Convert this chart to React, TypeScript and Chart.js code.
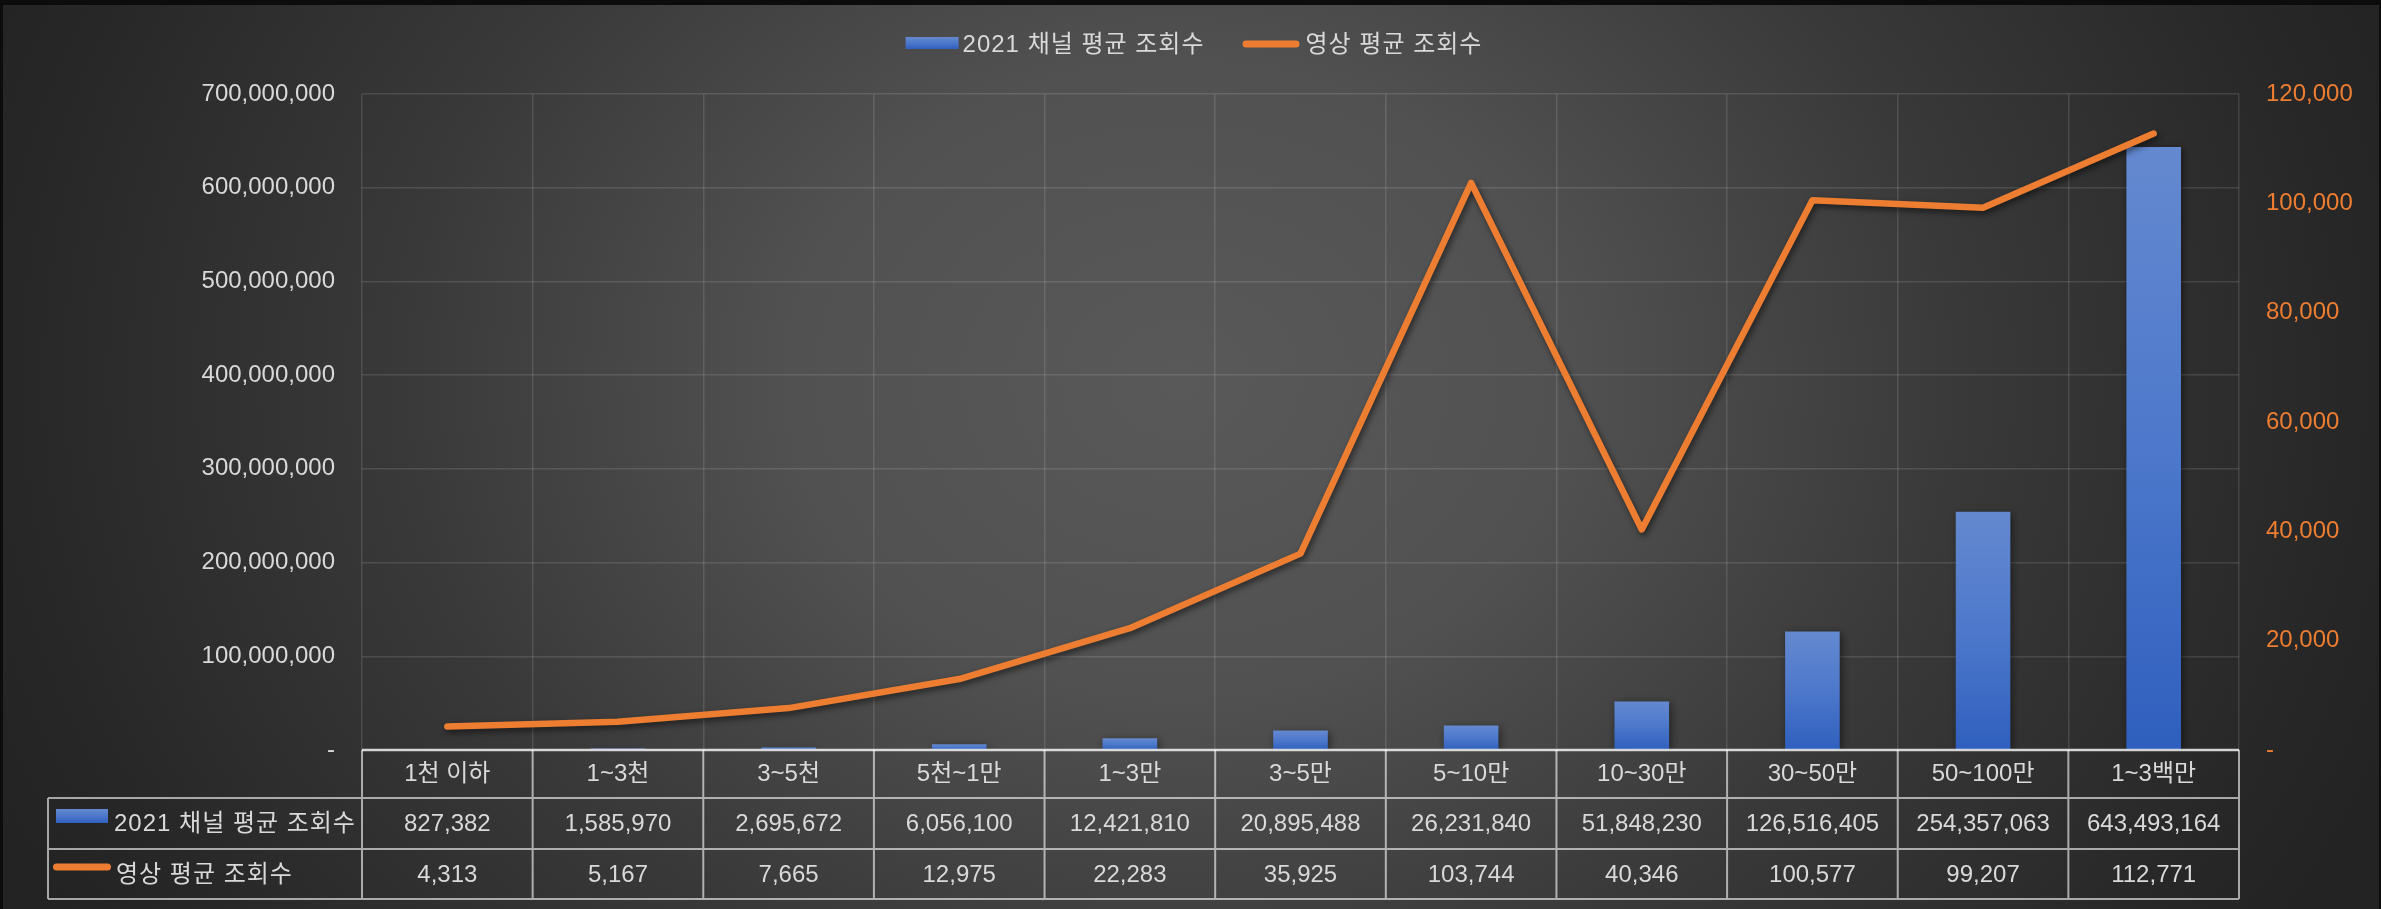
import React, { useEffect, useRef } from 'react';
import { Chart, registerables } from 'chart.js';

Chart.register(...registerables);

const categories = ['1천 이하', '1~3천', '3~5천', '5천~1만', '1~3만', '3~5만', '5~10만', '10~30만', '30~50만', '50~100만', '1~3백만'];
const channelViews = [827382, 1585970, 2695672, 6056100, 12421810, 20895488, 26231840, 51848230, 126516405, 254357063, 643493164];
const videoViews = [4313, 5167, 7665, 12975, 22283, 35925, 103744, 40346, 100577, 99207, 112771];
const seriesNames = ['2021 채널 평균 조회수', '영상 평균 조회수'];
const leftAxisMax = 700000000;
const leftAxisStep = 100000000;
const rightAxisMax = 120000;
const rightAxisStep = 20000;

const W = 2381;
const H = 909;
const FONT = "'Liberation Sans', 'Noto Sans CJK KR', 'Noto Sans', sans-serif";
const TEXT = '#d9d9d9';
const ORANGE = '#ed7d31';
const FONT_SIZE = 24;

const fmt = (v: number) => (v === 0 ? '-' : Number(v).toLocaleString('en-US'));

function blueGradient(ctx: CanvasRenderingContext2D, top: number, bottom: number) {
  const g = ctx.createLinearGradient(0, top, 0, bottom);
  g.addColorStop(0, '#6489d0');
  g.addColorStop(0.5, '#4d78cb');
  g.addColorStop(1, '#2f5fbe');
  return g;
}

const bgPlugin = {
  id: 'bgPlugin',
  beforeDraw(chart: any) {
    const ctx = chart.ctx as CanvasRenderingContext2D;
    ctx.save();
    ctx.fillStyle = '#0c0c0c';
    ctx.fillRect(0, 0, W, H);
    ctx.beginPath();
    ctx.rect(3, 5, W - 5, H - 5);
    ctx.clip();
    const cx = 1180, cy = 380, rx = 1300, ry = 1050;
    ctx.translate(cx, cy);
    ctx.scale(1, ry / rx);
    const g = ctx.createRadialGradient(0, 0, 0, 0, 0, rx);
    g.addColorStop(0, '#595959');
    g.addColorStop(0.3, '#515151');
    g.addColorStop(0.6, '#393939');
    g.addColorStop(0.9, '#272727');
    g.addColorStop(1, '#232323');
    ctx.fillStyle = g;
    ctx.fillRect(-cx, (-cy * rx) / ry, W, (H * rx) / ry);
    ctx.restore();
  },
};

const shadowPlugin = {
  id: 'shadowPlugin',
  beforeDatasetDraw(chart: any, args: any) {
    const ctx = chart.ctx as CanvasRenderingContext2D;
    ctx.save();
    if (args.meta.type === 'bar') {
      ctx.shadowColor = 'rgba(0,0,0,0.5)';
      ctx.shadowBlur = 8;
      ctx.shadowOffsetX = 2;
      ctx.shadowOffsetY = 2;
    } else {
      ctx.shadowColor = 'rgba(0,0,0,0.55)';
      ctx.shadowBlur = 6;
      ctx.shadowOffsetX = 2;
      ctx.shadowOffsetY = 3;
    }
  },
  afterDatasetDraw(chart: any) {
    chart.ctx.restore();
  },
};

const ROW_H = [48, 51, 50];

function withSpacing(ctx: any, px: string, fn: () => void) {
  const prev = ctx.letterSpacing;
  if (prev !== undefined) ctx.letterSpacing = px;
  fn();
  if (prev !== undefined) ctx.letterSpacing = prev;
}

const tablePlugin = {
  id: 'tablePlugin',
  afterDraw(chart: any) {
    const ctx = chart.ctx as CanvasRenderingContext2D;
    const xs = chart.scales.x;
    const { left, right, bottom } = chart.chartArea;
    const n = categories.length;
    const colW = (right - left) / n;
    const r0 = bottom;
    const r1 = r0 + ROW_H[0];
    const r2 = r1 + ROW_H[1];
    const r3 = r2 + ROW_H[2];
    const tableLeft = 48;
    ctx.save();
    ctx.strokeStyle = 'rgba(255,255,255,0.6)';
    ctx.lineWidth = 2;
    ctx.beginPath();
    [r1, r2, r3].forEach((y) => {
      ctx.moveTo(tableLeft, y);
      ctx.lineTo(right, y);
    });
    ctx.moveTo(tableLeft, r1);
    ctx.lineTo(tableLeft, r3);
    for (let i = 0; i <= n; i++) {
      const x = left + i * colW;
      ctx.moveTo(x, r0);
      ctx.lineTo(x, r3);
    }
    ctx.stroke();
    ctx.strokeStyle = 'rgba(255,255,255,0.78)';
    ctx.lineWidth = 2.5;
    ctx.beginPath();
    ctx.moveTo(left, r0);
    ctx.lineTo(right, r0);
    ctx.stroke();

    ctx.fillStyle = TEXT;
    ctx.font = `${FONT_SIZE}px ${FONT}`;
    ctx.textAlign = 'center';
    ctx.textBaseline = 'middle';
    const y1c = (r1 + r2) / 2 + 1;
    const y2c = (r2 + r3) / 2 + 1;
    for (let i = 0; i < n; i++) {
      const x = xs.getPixelForValue(i);
      ctx.fillText(fmt(channelViews[i]), x, y1c);
      ctx.fillText(fmt(videoViews[i]), x, y2c);
    }
    ctx.textAlign = 'left';
    ctx.fillStyle = blueGradient(ctx, r1 + 11, r1 + 25);
    ctx.fillRect(56, r1 + 11, 52, 14);
    ctx.fillStyle = TEXT;
    ctx.strokeStyle = ORANGE;
    ctx.lineWidth = 7;
    ctx.lineCap = 'round';
    ctx.beginPath();
    ctx.moveTo(56.5, r2 + 18);
    ctx.lineTo(107.5, r2 + 18);
    ctx.stroke();

    let t1 = 0;
    let t2 = 0;
    withSpacing(ctx, '1px', () => {
      ctx.fillText(seriesNames[0], 114, y1c);
      ctx.fillText(seriesNames[1], 116, y2c);
      t1 = ctx.measureText(seriesNames[0]).width;
      t2 = ctx.measureText(seriesNames[1]).width;
    });

    const total = 53 + 4 + t1 + 38 + 57 + 6 + t2;
    let lx = 1194 - total / 2;
    const ly = 45;
    ctx.fillStyle = blueGradient(ctx, 37, 49);
    ctx.fillRect(lx, 37, 53, 12);
    lx += 57;
    ctx.fillStyle = TEXT;
    withSpacing(ctx, '1px', () => ctx.fillText(seriesNames[0], lx, ly));
    lx += t1 + 38;
    ctx.strokeStyle = ORANGE;
    ctx.lineWidth = 7;
    ctx.beginPath();
    ctx.moveTo(lx + 3.5, 44);
    ctx.lineTo(lx + 53.5, 44);
    ctx.stroke();
    lx += 63;
    withSpacing(ctx, '1px', () => ctx.fillText(seriesNames[1], lx, ly));
    ctx.restore();
  },
};

export default function App() {
  const ref = useRef<HTMLCanvasElement | null>(null);
  useEffect(() => {
    if (!ref.current) return;
    const chart = new Chart(ref.current, {
      type: 'bar',
      data: {
        labels: categories,
        datasets: [
          {
            type: 'line',
            label: seriesNames[1],
            data: videoViews,
            yAxisID: 'y1',
            borderColor: ORANGE,
            backgroundColor: ORANGE,
            borderWidth: 6.5,
            borderCapStyle: 'round',
            borderJoinStyle: 'round',
            pointRadius: 0,
            pointHoverRadius: 0,
            tension: 0,
            order: 0,
          } as any,
          {
            type: 'bar',
            label: seriesNames[0],
            data: channelViews,
            yAxisID: 'y',
            barPercentage: 0.32,
            categoryPercentage: 1,
            backgroundColor: (c: any) => {
              const chart = c.chart;
              if (!chart.chartArea || c.type !== 'data' || !chart.scales.y) return '#4472c4';
              const ys = chart.scales.y;
              const top = ys.getPixelForValue(c.raw);
              const bot = ys.getPixelForValue(0);
              if (!isFinite(top) || !isFinite(bot) || bot - top < 1) return '#4472c4';
              return blueGradient(chart.ctx, top, bot);
            },
            borderWidth: 0,
            order: 1,
          } as any,
        ],
      },
      options: {
        responsive: false,
        animation: false,
        devicePixelRatio: 1,
        layout: { padding: { top: 94, left: 0, right: 0, bottom: 0 } },
        plugins: {
          legend: { display: false },
          tooltip: { enabled: false },
        },
        scales: {
          x: {
            type: 'category',
            offset: true,
            grid: {
              display: true,
              offset: true,
              color: 'rgba(255,255,255,0.12)',
              lineWidth: 1.5,
              drawTicks: false,
            },
            border: { display: false },
            ticks: {
              color: TEXT,
              font: { family: FONT, size: FONT_SIZE },
              padding: 10,
              autoSkip: false,
              maxRotation: 0,
              minRotation: 0,
            },
            afterFit: (s: any) => {
              s.height = 159;
            },
          },
          y: {
            type: 'linear',
            position: 'left',
            min: 0,
            max: leftAxisMax,
            grid: {
              color: 'rgba(255,255,255,0.12)',
              lineWidth: 1.5,
              drawTicks: false,
            },
            border: { display: false },
            ticks: {
              stepSize: leftAxisStep,
              color: TEXT,
              font: { family: FONT, size: FONT_SIZE },
              padding: 27,
              callback: (v: any) => fmt(Number(v)),
            },
            afterFit: (s: any) => {
              s.width = 362;
            },
          },
          y1: {
            type: 'linear',
            position: 'right',
            min: 0,
            max: rightAxisMax,
            grid: { display: false, drawTicks: false },
            border: { display: false },
            ticks: {
              stepSize: rightAxisStep,
              color: ORANGE,
              font: { family: FONT, size: FONT_SIZE },
              padding: 27,
              callback: (v: any) => fmt(Number(v)),
            },
            afterFit: (s: any) => {
              s.width = 142;
            },
          },
        },
      },
      plugins: [bgPlugin, shadowPlugin, tablePlugin],
    });
    return () => chart.destroy();
  }, []);

  return (
    <div style={{ position: 'fixed', left: 0, top: 0, width: W, height: H, overflow: 'hidden' }}>
      <canvas ref={ref} width={W} height={H} style={{ display: 'block', width: W, height: H }} />
    </div>
  );
}
